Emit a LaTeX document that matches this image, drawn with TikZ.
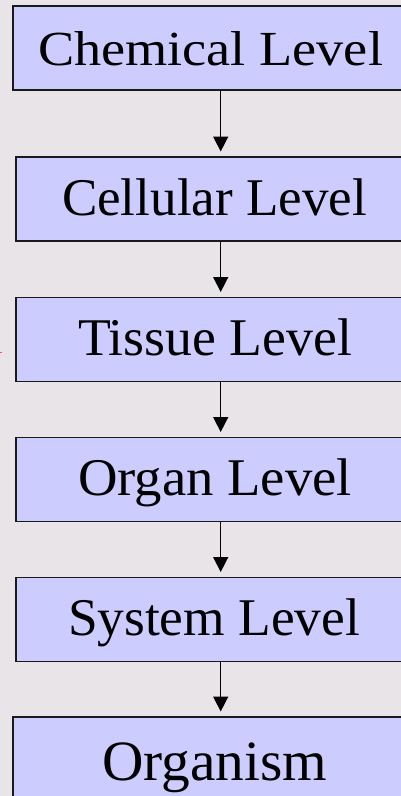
\documentclass[tikz,border=0pt]{standalone}
\usetikzlibrary{arrows.meta}
\usepackage{graphicx}
\usepackage{fontspec}
\setmainfont{Liberation Serif}
\definecolor{bgc}{RGB}{232,228,232}
\definecolor{boxc}{RGB}{204,204,255}
\definecolor{edgec}{RGB}{26,26,26}
\tikzset{
  lvlbox/.style={draw=edgec, fill=boxc, line width=1.5pt, minimum width=420pt, minimum height=84pt, anchor=north west, inner sep=0pt},
  lvltext/.style={anchor=base west, inner sep=0pt, outer sep=0pt, text=black},
  arr/.style={draw=black, line width=1.5pt, -{Triangle[width=15pt,length=15pt]}, shorten >=4.5pt},
}
\newcommand{\lvl}[3]{\resizebox{#1pt}{\height}{\fontsize{#2}{#2}\selectfont #3}}
\begin{document}
\begin{tikzpicture}[x=1pt,y=-1pt]
\fill[bgc] (0,0) rectangle (401,796);
\useasboundingbox (0,0) rectangle (401,796);
\clip (0,0) rectangle (401,796);
\node[lvlbox] (b1) at (12,5) {};
\node[lvlbox] (b2) at (15,156) {};
\node[lvlbox] (b3) at (15,296.5) {};
\node[lvlbox] (b4) at (15,436.5) {};
\node[lvlbox] (b5) at (15,576.5) {};
\node[lvlbox, minimum height=100pt] (b6) at (12,716) {};
\node[lvltext] (t1) at (38,65.7) {\lvl{345}{49}{Chemical Level}};
\node[lvltext] (t2) at (62,215) {\lvl{305}{53}{Cellular Level}};
\node[lvltext] (t3) at (78,355.5) {\lvl{274}{53}{Tissue Level}};
\node[lvltext] (t4) at (78,495.5) {\lvl{274}{53}{Organ Level}};
\node[lvltext] (t5) at (68,635.5) {\lvl{292}{53}{System Level}};
\node[lvltext] (t6) at (102,780) {\lvl{225}{57}{Organism}};
\coordinate (ax) at (220.7,0);
\draw[arr] (b1.south -| ax) -- (b2.north -| ax);
\draw[arr] (b2.south -| ax) -- (b3.north -| ax);
\draw[arr] (b3.south -| ax) -- (b4.north -| ax);
\draw[arr] (b4.south -| ax) -- (b5.north -| ax);
\draw[arr] (b5.south -| ax) -- (b6.north -| ax);
\coordinate (rm1) at (0,352.5);
\coordinate (rm2) at (2,352.5);
\draw[red!70, line width=1pt] (rm1) -- (rm2);
\end{tikzpicture}
\end{document}
